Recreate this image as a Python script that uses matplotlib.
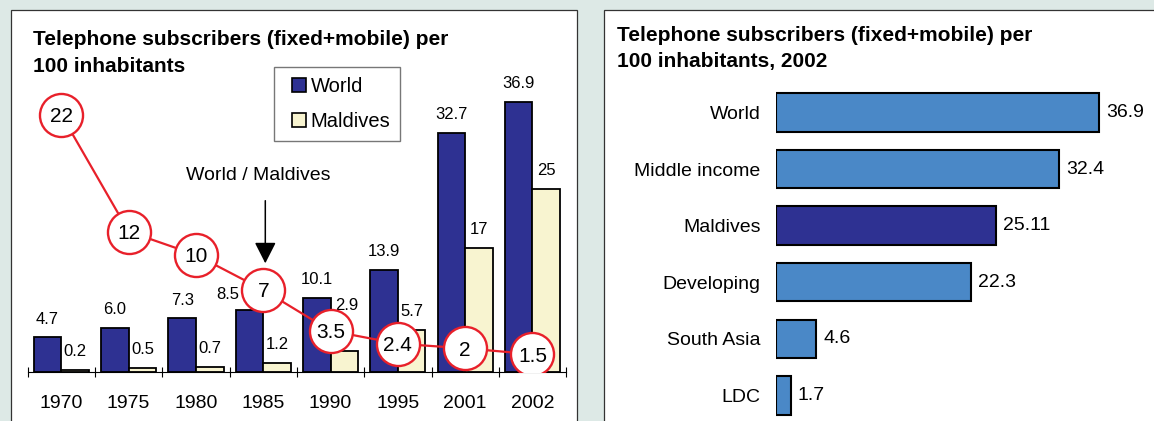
import matplotlib
matplotlib.use("Agg")
import matplotlib.pyplot as plt
from matplotlib.patches import Rectangle
from matplotlib.lines import Line2D
import numpy as np

plt.rcParams['font.family'] = ['Liberation Sans', 'DejaVu Sans']

# ---------------- data ----------------
years = ["1970", "1975", "1980", "1985", "1990", "1995", "2001", "2002"]
world = [4.7, 6.0, 7.3, 8.5, 10.1, 13.9, 32.7, 36.9]
maldives = [0.2, 0.5, 0.7, 1.2, 2.9, 5.7, 17, 25]
world_labels = ["4.7", "6.0", "7.3", "8.5", "10.1", "13.9", "32.7", "36.9"]
maldives_labels = ["0.2", "0.5", "0.7", "1.2", "2.9", "5.7", "17", "25"]
ratio = [22, 12, 10, 7, 3.5, 2.4, 2, 1.5]
ratio_labels = ["22", "12", "10", "7", "3.5", "2.4", "2", "1.5"]

groups = ["World", "Middle income", "Maldives", "Developing", "South Asia", "LDC"]
values_2002 = [36.9, 32.4, 25.11, 22.3, 4.6, 1.7]
values_2002_labels = ["36.9", "32.4", "25.11", "22.3", "4.6", "1.7"]

# ---------------- style ----------------
W, H = 1154, 421
BG = "#dde9e6"
DARK = "#2e3192"
CREAM = "#f8f4d0"
LIGHT = "#4a88c7"
RED = "#e8202a"

fig = plt.figure(figsize=(W / 100, H / 100), dpi=100, facecolor=BG)

def px(x, y, w, h):
    """pixel box (top-left origin) -> figure fraction rect"""
    return [x / W, 1 - (y + h) / H, w / W, h / H]

# panels
for (x0, y0, x1) in [(11, 10, 577), (604, 10, 1200)]:
    fig.patches.append(Rectangle(((x0) / W, -0.05), (x1 - x0) / W, (H - y0) / H + 0.05,
                                 transform=fig.transFigure, facecolor="white",
                                 edgecolor="#333333", linewidth=0.9, zorder=-5))

# ---------------- left chart ----------------
step = 67.3
ax = fig.add_axes(px(27.7, 371.7 - 40 * 7.3, 8 * step, 40 * 7.3))
ax.set_facecolor("none")
x = np.arange(len(years))
bw = 0.41
ax.bar(x - bw / 2, world, bw, color=DARK, edgecolor="black", linewidth=1.3, zorder=2)
ax.bar(x + bw / 2, maldives, bw, color=CREAM, edgecolor="black", linewidth=1.3, zorder=2)
ax.set_xlim(-0.5, len(years) - 0.5)
ax.set_ylim(0, 40)
for s in ["top", "right", "left"]:
    ax.spines[s].set_visible(False)
ax.spines["bottom"].set_linewidth(0.8)
ax.set_yticks([])
ax.set_xticks(x)
ax.set_xticklabels(years, fontsize=14)
ax.tick_params(axis="x", which="major", length=0, pad=16.5)
ax.set_xticks(np.arange(len(years) + 1) - 0.5, minor=True)
ax.tick_params(axis="x", which="minor", direction="inout", length=7, width=0.8)

# value labels (special offsets for crowded ones, in points)
w_off = {3: (-15.4, 7.4)}
m_off = {4: (1.5, 29)}
for i in range(len(years)):
    dx, dy = w_off.get(i, (0, 10))
    ax.annotate(world_labels[i], (x[i] - bw / 2, world[i]), xytext=(dx, dy),
                textcoords="offset points", ha="center", va="baseline", fontsize=12, zorder=3)
    dx, dy = m_off.get(i, (0, 10))
    ax.annotate(maldives_labels[i], (x[i] + bw / 2, maldives[i]), xytext=(dx, dy),
                textcoords="offset points", ha="center", va="baseline", fontsize=12, zorder=3)

# ratio line on a twin scale
ax2 = ax.twinx()
ax2.set_ylim(0, 25)
ax2.set_axis_off()
ax2.plot(x, ratio, color=RED, linewidth=1.6, zorder=4)
ax2.scatter(x, ratio, s=31 ** 2, facecolor="white", edgecolor=RED, linewidth=1.7, zorder=5)
for i in range(len(years)):
    ax2.annotate(ratio_labels[i], (x[i], ratio[i]), xytext=(0, -5.3), textcoords="offset points",
                 ha="center", va="baseline", fontsize=15, zorder=6)

# arrow + caption
ax2.annotate("", xy=(265.3 / W, 1 - 263.3 / H), xytext=(265.3 / W, 1 - 200.7 / H),
             xycoords="figure fraction", textcoords="figure fraction",
             arrowprops=dict(arrowstyle="-|>,head_length=1.3,head_width=0.66",
                             color="black", lw=1.1, shrinkA=0, shrinkB=0))
fig.text(258.4 / W, 1 - 175.5 / H, "World / Maldives", ha="center", va="center", fontsize=14)

# legend
handles = [Line2D([], [], linestyle="none", marker="s", markersize=10, markerfacecolor=c,
                  markeredgecolor="black", markeredgewidth=1.2) for c in (DARK, CREAM)]
leg = ax.legend(handles, ["World", "Maldives"], loc="upper left",
                bbox_to_anchor=(274 / W, 1 - 67.0 / H), bbox_transform=fig.transFigure,
                fontsize=14.5, frameon=True, fancybox=False, edgecolor="#555555",
                handlelength=1.51, handleheight=0.7, handletextpad=-0.19,
                labelspacing=0.8, borderpad=0.5, borderaxespad=0)
leg.get_frame().set_linewidth(1.0)

# titles
TFS = 15
fig.text(33 / W, 1 - 45 / H, "Telephone subscribers (fixed+mobile) per",
         fontsize=TFS, fontweight="bold", va="baseline")
fig.text(33 / W, 1 - 72 / H, "100 inhabitants", fontsize=TFS, fontweight="bold", va="baseline")

# ---------------- right chart ----------------
rstep = 56.56
axr = fig.add_axes(px(775.8, 112.5 - rstep / 2, 40 * 8.75, 6 * rstep))
axr.set_facecolor("none")
y = np.arange(len(groups))
colors = [DARK if g == "Maldives" else LIGHT for g in groups]
axr.barh(y, values_2002, height=0.68, color=colors, edgecolor="black", linewidth=1.5)
axr.set_xlim(0, 40)
axr.set_ylim(len(groups) - 0.5, -0.5)
for s in axr.spines.values():
    s.set_visible(False)
axr.set_xticks([])
axr.set_yticks(y)
axr.set_yticklabels(groups, fontsize=14)
axr.tick_params(axis="y", length=0, pad=11)
for i, v in enumerate(values_2002):
    axr.annotate(values_2002_labels[i], (v, y[i]), xytext=(5.2, 0), textcoords="offset points",
                 ha="left", va="center", fontsize=14)

fig.text(616.6 / W, 1 - 41 / H, "Telephone subscribers (fixed+mobile) per",
         fontsize=TFS, fontweight="bold", va="baseline")
fig.text(616.6 / W, 1 - 67.5 / H, "100 inhabitants, 2002", fontsize=TFS, fontweight="bold",
         va="baseline")

fig.savefig("out.png", dpi=100, facecolor=BG)
